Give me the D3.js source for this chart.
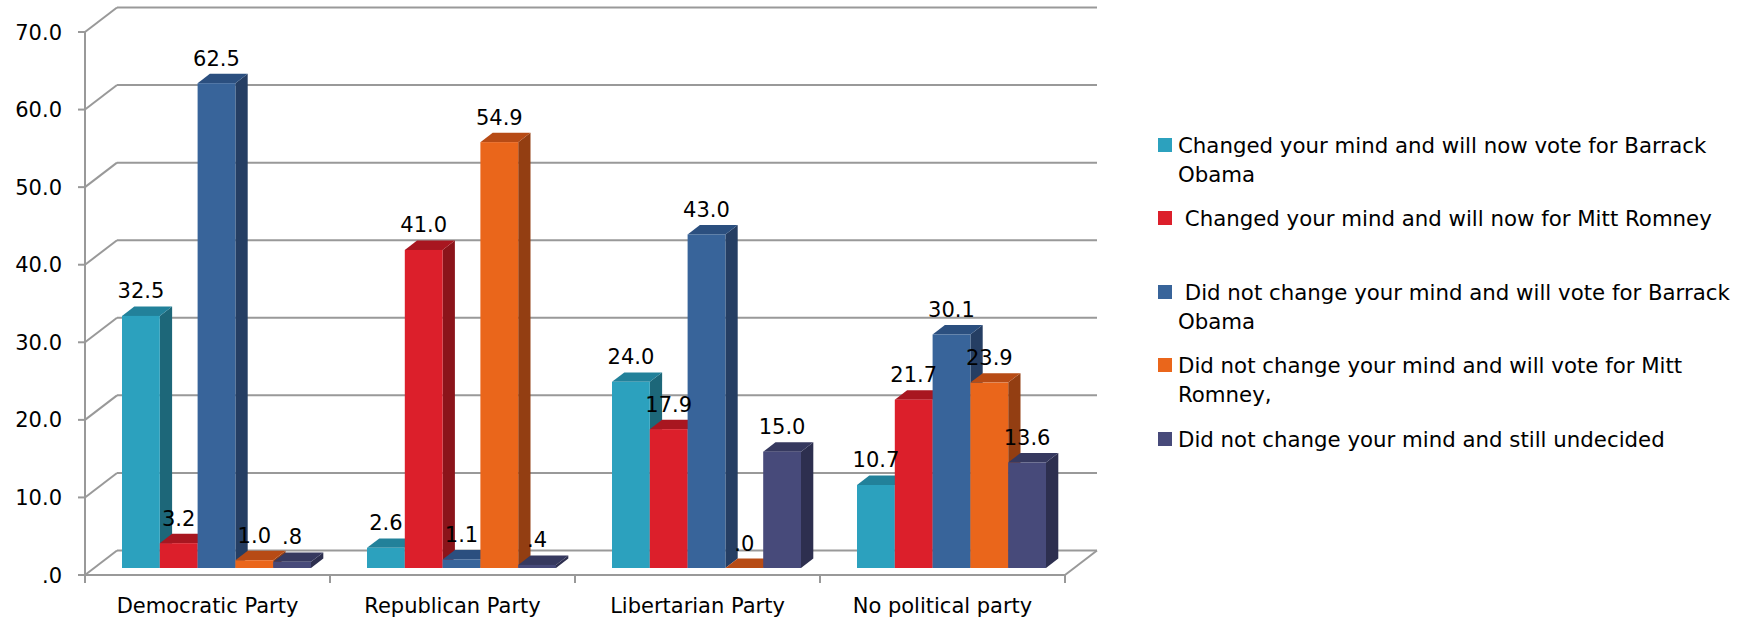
<!DOCTYPE html>
<html>
<head>
<meta charset="utf-8">
<script src="https://cdn.jsdelivr.net/npm/d3@7"></script>
<style>
  html, body { margin: 0; padding: 0; background: #fff; }
  svg { display: block; }
  text { font-family: "DejaVu Sans", sans-serif; fill: #000; }
</style>
</head>
<body>
<svg id="chart" width="1746" height="620"></svg>
<script>
// ---------- data ----------
const categories = ["Democratic Party", "Republican Party", "Libertarian Party", "No political party"];
const seriesNames = [
  "Changed your mind and will now vote for Barrack Obama",
  " Changed your mind and will now for Mitt Romney",
  " Did not change your mind and will vote for Barrack Obama",
  "Did not change your mind and will vote for Mitt Romney,",
  "Did not change your mind and still undecided"
];
const legendLines = [
  ["Changed your mind and will now vote for Barrack", "Obama"],
  [" Changed your mind and will now for Mitt Romney"],
  [" Did not change your mind and will vote for Barrack", "Obama"],
  ["Did not change your mind and will vote for Mitt", "Romney,"],
  ["Did not change your mind and still undecided"]
];
const changedObama  = [32.5, 2.6, 24.0, 10.7];
const changedRomney = [3.2, 41.0, 17.9, 21.7];
const stayObama     = [62.5, 1.1, 43.0, 30.1];
const stayRomney    = [1.0, 54.9, 0.0, 23.9];
const undecided     = [0.8, 0.4, 15.0, 13.6];
const yTickValues = [0, 10, 20, 30, 40, 50, 60, 70];
const yTickLabels = [".0", "10.0", "20.0", "30.0", "40.0", "50.0", "60.0", "70.0"];

const seriesValues = [changedObama, changedRomney, stayObama, stayRomney, undecided];
const frontColors = ["#2ca1be", "#dc1f2b", "#38649a", "#ea661b", "#474a7a"];
const topColors   = ["#22819a", "#a81620", "#2b4f7f", "#b74b15", "#36395f"];
const sideColors  = ["#1d6779", "#8b141a", "#253e63", "#933e12", "#2d2f4f"];

// ---------- geometry ----------
const svg = d3.select("#chart");
const x = d3.scaleBand().domain(categories).range([85, 1065]).paddingInner(0).paddingOuter(0);
const y = d3.scaleLinear().domain([0, 70]).range([575, 32]);
const groupW = 189;
const xs = d3.scaleBand().domain(d3.range(seriesValues.length)).range([0, groupW]);
const depth = { dx: 32, dy: -24.5 };      // full depth of the plot box
const barOff = { dx: 9, dy: -7 };         // front plane of the bars
const barDepth = { dx: 12.3, dy: -9.4 };  // depth of each bar
const lineColor = "#999999";

const grid = svg.append("g");
// back wall gridlines
grid.selectAll("line.back").data(yTickValues).join("line")
  .attr("x1", x.range()[0] + depth.dx).attr("x2", x.range()[1] + depth.dx)
  .attr("y1", d => y(d) + depth.dy).attr("y2", d => y(d) + depth.dy)
  .attr("stroke", lineColor).attr("stroke-width", 2);
// side wall diagonals
grid.selectAll("line.diag").data(yTickValues).join("line")
  .attr("x1", x.range()[0]).attr("x2", x.range()[0] + depth.dx)
  .attr("y1", d => y(d)).attr("y2", d => y(d) + depth.dy)
  .attr("stroke", lineColor).attr("stroke-width", 2);
// floor right diagonal
grid.append("line")
  .attr("x1", x.range()[1]).attr("x2", x.range()[1] + depth.dx)
  .attr("y1", y(0)).attr("y2", y(0) + depth.dy)
  .attr("stroke", lineColor).attr("stroke-width", 2);
// front vertical axis
grid.append("line")
  .attr("x1", x.range()[0]).attr("x2", x.range()[0])
  .attr("y1", y(70)).attr("y2", y(0))
  .attr("stroke", lineColor).attr("stroke-width", 2);
// front floor edge
grid.append("line")
  .attr("x1", x.range()[0]).attr("x2", x.range()[1])
  .attr("y1", y(0)).attr("y2", y(0))
  .attr("stroke", lineColor).attr("stroke-width", 2);
// y ticks
grid.selectAll("line.ytick").data(yTickValues).join("line")
  .attr("x1", x.range()[0] - 7).attr("x2", x.range()[0])
  .attr("y1", d => y(d)).attr("y2", d => y(d))
  .attr("stroke", lineColor).attr("stroke-width", 2);
// category ticks
const catEdges = categories.map(c => x(c)).concat([x.range()[1]]);
grid.selectAll("line.xtick").data(catEdges).join("line")
  .attr("x1", d => d).attr("x2", d => d)
  .attr("y1", y(0)).attr("y2", y(0) + 8)
  .attr("stroke", lineColor).attr("stroke-width", 2);

// y labels
svg.append("g").selectAll("text").data(yTickValues).join("text")
  .attr("x", 62).attr("y", d => y(d)).attr("dy", "0.36em")
  .attr("text-anchor", "end").attr("font-size", 21)
  .text((d, i) => yTickLabels[i]);

// category labels
svg.append("g").selectAll("text").data(categories).join("text")
  .attr("x", d => x(d) + x.bandwidth() / 2).attr("y", 613)
  .attr("text-anchor", "middle").attr("font-size", 21)
  .text(d => d);

// bars
const fmt = v => { const s = d3.format(".1f")(v); return v < 1 ? s.replace(/^0/, "") : s; };
const bars = svg.append("g");
const labelData = [];
categories.forEach((cat, ci) => {
  seriesValues.forEach((vals, si) => {
    const v = vals[ci];
    const x0 = x(cat) + (x.bandwidth() - groupW) / 2 + xs(si) + barOff.dx;
    const w = xs.bandwidth();
    const yb = y(0) + barOff.dy;
    const yt = y(v) + barOff.dy;
    const g = bars.append("g");
    // side
    g.append("path").attr("d", d3.line()([
      [x0 + w, yt], [x0 + w + barDepth.dx, yt + barDepth.dy],
      [x0 + w + barDepth.dx, yb + barDepth.dy], [x0 + w, yb]
    ]) + "Z").attr("fill", sideColors[si]);
    // top
    g.append("path").attr("d", d3.line()([
      [x0, yt], [x0 + w, yt], [x0 + w + barDepth.dx, yt + barDepth.dy], [x0 + barDepth.dx, yt + barDepth.dy]
    ]) + "Z").attr("fill", topColors[si]);
    // front
    g.append("rect").attr("x", x0).attr("y", yt).attr("width", w).attr("height", yb - yt)
      .attr("fill", frontColors[si]);
    labelData.push({ x: x0 + w / 2, y: yt - 17.5, t: fmt(v) });
  });
});

// data labels
svg.append("g").selectAll("text").data(labelData).join("text")
  .attr("x", d => d.x).attr("y", d => d.y)
  .attr("text-anchor", "middle").attr("font-size", 21)
  .text(d => d.t);

// legend
const legendRows = [145, 218, 292, 365, 439];
const legend = svg.append("g");
legendLines.forEach((lines, i) => {
  legend.append("rect").attr("x", 1158).attr("y", legendRows[i] - 7).attr("width", 14).attr("height", 14)
    .attr("fill", frontColors[i]);
  const t = legend.append("text").attr("font-size", 21.3).style("white-space", "pre");
  lines.forEach((ln, j) => {
    t.append("tspan").attr("x", 1178).attr("y", legendRows[i] + j * 29).attr("dy", "0.36em").text(ln);
  });
});
</script>
</body>
</html>
